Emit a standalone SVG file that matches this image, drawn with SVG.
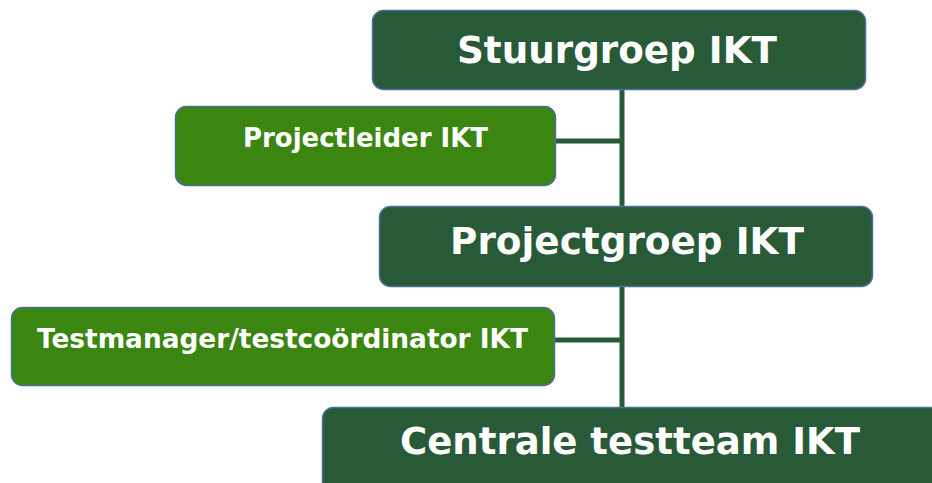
<svg xmlns="http://www.w3.org/2000/svg" width="932" height="483" viewBox="0 0 932 483">
  <style>
    .box { stroke: #4a6f9e; stroke-width: 1.5; }
    .dark { fill: #285a37; }
    .light { fill: #3b8511; }
    .lbl { font-family: "DejaVu Sans", Verdana, sans-serif; font-weight: bold; fill: #ffffff; text-anchor: middle; }
    .big { font-size: 37.5px; }
    .small { font-size: 26px; }
    .conn { stroke: #285a37; stroke-width: 5; fill: none; }
  </style>
  <rect width="932" height="483" fill="#ffffff"/>

  <!-- connectors -->
  <g id="connectors">
    <line class="conn" x1="622" y1="89" x2="622" y2="409"/>
    <line class="conn" x1="555" y1="141" x2="622" y2="141"/>
    <line class="conn" x1="554" y1="340" x2="622" y2="340"/>
  </g>

  <g id="stuurgroep">
    <rect class="box dark" x="372.5" y="10.5" width="493" height="79" rx="11"/>
    <text class="lbl big" x="617" y="63" textLength="320" lengthAdjust="spacingAndGlyphs">Stuurgroep IKT</text>
  </g>

  <g id="projectleider">
    <rect class="box light" x="175.5" y="106.5" width="380" height="79" rx="11"/>
    <text class="lbl small" x="365.5" y="147" textLength="245" lengthAdjust="spacingAndGlyphs">Projectleider IKT</text>
  </g>

  <g id="projectgroep">
    <rect class="box dark" x="379.5" y="206.5" width="493" height="80" rx="11"/>
    <text class="lbl big" x="627" y="254" textLength="354" lengthAdjust="spacingAndGlyphs">Projectgroep IKT</text>
  </g>

  <g id="testmanager">
    <rect class="box light" x="11.5" y="307.5" width="543" height="78" rx="11"/>
    <text class="lbl small" x="282.5" y="348" textLength="491" lengthAdjust="spacingAndGlyphs">Testmanager/testcoördinator IKT</text>
  </g>

  <g id="centrale-testteam">
    <rect class="box dark" x="322.5" y="407.5" width="625" height="90" rx="11"/>
    <text class="lbl big" x="630" y="454" textLength="460" lengthAdjust="spacingAndGlyphs">Centrale testteam IKT</text>
  </g>
</svg>
